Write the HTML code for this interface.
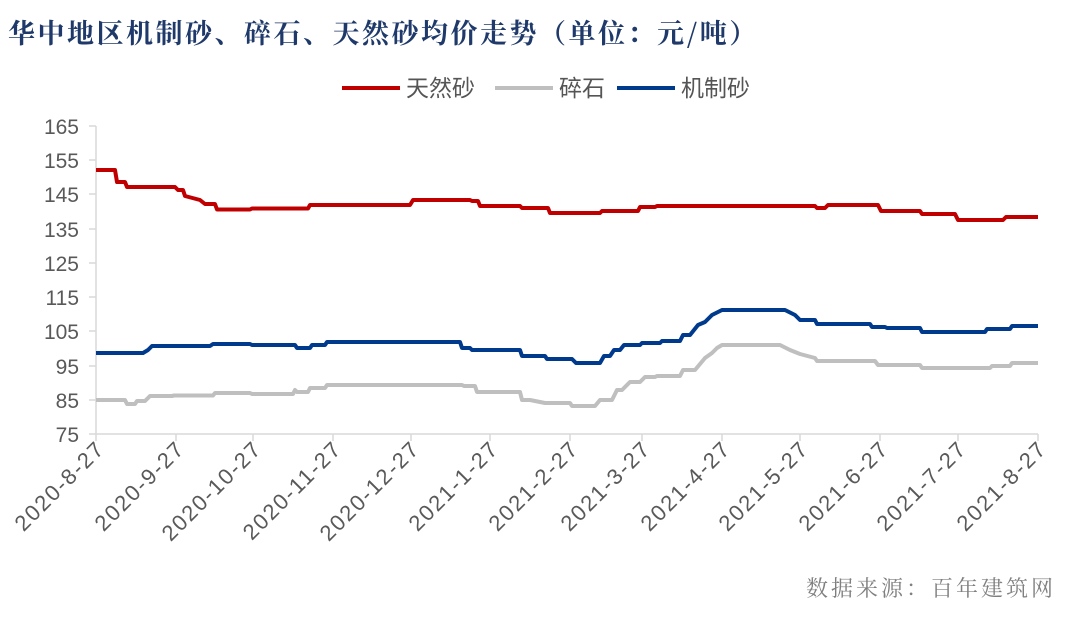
<!DOCTYPE html>
<html><head><meta charset="utf-8"><style>
body{margin:0;background:#fff;width:1080px;height:619px;overflow:hidden}
</style></head><body>
<svg width="1080" height="619" xmlns="http://www.w3.org/2000/svg" font-family="Liberation Sans, Noto Sans CJK SC, sans-serif">
<text x="8" y="43" font-size="27" font-weight="bold" fill="#1f3a6a" letter-spacing="2.5" font-family="Noto Serif CJK SC, serif">华中地区机制砂、碎石、天然砂均价走势（单位：元/吨）</text>
<g font-size="23" fill="#555" font-family="Noto Sans CJK SC, sans-serif">
<line x1="342" y1="88" x2="400" y2="88" stroke="#c00000" stroke-width="4"/><text x="406" y="96">天然砂</text>
<line x1="495" y1="88" x2="553" y2="88" stroke="#bfbfbf" stroke-width="4"/><text x="559" y="96">碎石</text>
<line x1="617" y1="88" x2="675" y2="88" stroke="#003a8c" stroke-width="4"/><text x="681" y="96">机制砂</text>
</g>
<g stroke="#d9d9d9" stroke-width="1.5">
<line x1="96" y1="126" x2="96" y2="434"/><line x1="96" y1="434" x2="1038" y2="434"/>
<line x1="89" y1="126" x2="96" y2="126"/><line x1="89" y1="160" x2="96" y2="160"/><line x1="89" y1="194" x2="96" y2="194"/><line x1="89" y1="229" x2="96" y2="229"/><line x1="89" y1="263" x2="96" y2="263"/><line x1="89" y1="297" x2="96" y2="297"/><line x1="89" y1="331" x2="96" y2="331"/><line x1="89" y1="366" x2="96" y2="366"/><line x1="89" y1="400" x2="96" y2="400"/><line x1="89" y1="434" x2="96" y2="434"/>
<line x1="96" y1="434" x2="96" y2="441"/><line x1="176" y1="434" x2="176" y2="441"/><line x1="253" y1="434" x2="253" y2="441"/><line x1="333" y1="434" x2="333" y2="441"/><line x1="411" y1="434" x2="411" y2="441"/><line x1="490" y1="434" x2="490" y2="441"/><line x1="570" y1="434" x2="570" y2="441"/><line x1="642" y1="434" x2="642" y2="441"/><line x1="722" y1="434" x2="722" y2="441"/><line x1="800" y1="434" x2="800" y2="441"/><line x1="880" y1="434" x2="880" y2="441"/><line x1="958" y1="434" x2="958" y2="441"/><line x1="1038" y1="434" x2="1038" y2="441"/>
</g>
<g font-size="21" fill="#595959" text-anchor="end">
<text x="79" y="134">165</text><text x="79" y="168">155</text><text x="79" y="202">145</text><text x="79" y="237">135</text><text x="79" y="271">125</text><text x="79" y="305">115</text><text x="79" y="339">105</text><text x="79" y="374">95</text><text x="79" y="408">85</text><text x="79" y="442">75</text>
</g>
<g font-size="22" fill="#595959" text-anchor="end" letter-spacing="1.8">
<text transform="translate(106,450) rotate(-45)">2020-8-27</text>
<text transform="translate(186,450) rotate(-45)">2020-9-27</text>
<text transform="translate(263,450) rotate(-45)">2020-10-27</text>
<text transform="translate(343,450) rotate(-45)">2020-11-27</text>
<text transform="translate(421,450) rotate(-45)">2020-12-27</text>
<text transform="translate(500,450) rotate(-45)">2021-1-27</text>
<text transform="translate(580,450) rotate(-45)">2021-2-27</text>
<text transform="translate(652,450) rotate(-45)">2021-3-27</text>
<text transform="translate(732,450) rotate(-45)">2021-4-27</text>
<text transform="translate(810,450) rotate(-45)">2021-5-27</text>
<text transform="translate(890,450) rotate(-45)">2021-6-27</text>
<text transform="translate(968,450) rotate(-45)">2021-7-27</text>
<text transform="translate(1048,450) rotate(-45)">2021-8-27</text>
</g>
<g fill="none" stroke-width="4" stroke-linejoin="round">
<polyline stroke="#c00000" points="96,170 115,170 117,182 125,182 127,187 175,187 178,190 183,190 185,196 200,200 205,204 215,204 217,209.5 250,209.5 252,208.5 308,208.5 310,205 410,205 413,200 470,200 472,201 478,201 480,206 520,206 522,208 548,208 550,213 600,213 602,211 638,211 640,207 655,207 657,206 815,206 817,208 825,208 828,205 878,205 881,211 920,211 922,214 955,214 958,220 1003,220 1006,217 1038,217"/>
<polyline stroke="#bfbfbf" points="96,400 125,400 127,404 135,404 137,401 145,401 150,396 172,396 174,395.5 213,395.5 215,393 250,393 252,394 293,394 295,390 297,392 308,392 310,388 325,388 327,385 462,385 464,386 475,386 477,392 520,392 522,400 530,400 545,403 570,403 572,406 595,406 600,400 612,400 617,390 622,390 630,382 640,382 645,377 655,377 657,376 680,376 683,370 695,370 705,358 712,353 717,348 722,345 780,345 790,350 800,354 815,358 817,361 875,361 878,365 920,365 922,368 990,368 992,366 1010,366 1012,363 1038,363"/>
<polyline stroke="#003a8c" points="96,353 143,353 148,350 152,346 210,346 213,344 250,344 252,345 295,345 297,348 310,348 312,345 325,345 327,342 460,342 462,348 470,348 472,350 520,350 522,356 545,356 547,359 572,359 576,363 600,363 604,356 610,356 614,350 620,350 624,345 640,345 642,343 660,343 662,341 680,341 683,335 690,335 698,325 705,322 712,315 722,310 785,310 795,315 800,320 815,320 817,324 870,324 872,327 885,327 887,328 920,328 922,332 985,332 987,329 1010,329 1012,326 1038,326"/>
</g>
<text x="1056" y="596" font-size="22" fill="#7f7f7f" text-anchor="end" letter-spacing="3" font-family="Noto Serif CJK SC, serif">数据来源：百年建筑网</text>
</svg>
</body></html>
